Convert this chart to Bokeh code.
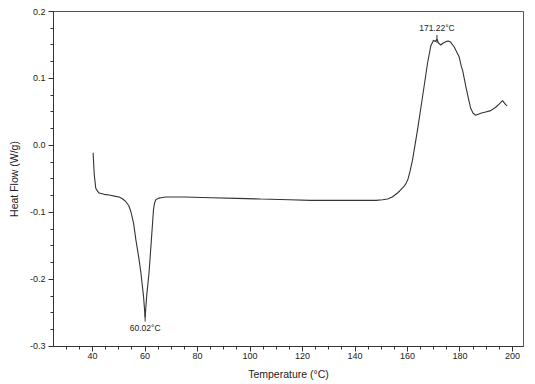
import math
from bokeh.plotting import figure
from bokeh.models import SingleIntervalTicker, PrintfTickFormatter, Range1d
from bokeh.core.properties import value
from bokeh.embed import file_html
from bokeh.resources import INLINE

# Data
temperature = [40.2, 40.6, 41.2, 42.0, 42.5, 44.4, 46.3, 48.8, 50.1, 51.5, 52.7, 53.8, 54.6,
               55.6, 56.5, 57.7, 58.4, 59.4, 60.02, 60.6, 61.5, 62.4, 63.2, 63.6, 64.1, 65.0,
               66.0, 67.9, 75.0, 85.1, 95.0, 104.1, 115.0, 123.2, 133.0, 142.2, 148.0, 150.5,
               152.4, 154.2, 156.2, 157.0, 158.5, 159.4, 160.2, 161.0, 161.9, 163.8, 165.7,
               167.6, 168.9, 169.9, 170.6, 171.22, 171.8, 172.7, 173.6, 174.6, 175.6, 176.5,
               177.8, 179.7, 180.5, 181.0, 182.4, 183.1, 184.1, 185.0, 186.0, 187.9, 189.8,
               191.7, 193.6, 195.0, 196.2, 197.4, 198.0]
heat_flow = [-0.011, -0.042, -0.064, -0.069, -0.071, -0.073, -0.074, -0.076, -0.077, -0.080,
             -0.084, -0.090, -0.099, -0.116, -0.141, -0.170, -0.190, -0.225, -0.257, -0.225,
             -0.190, -0.141, -0.096, -0.086, -0.081, -0.079, -0.078, -0.077, -0.077, -0.078,
             -0.079, -0.080, -0.081, -0.082, -0.082, -0.082, -0.082, -0.081, -0.080, -0.077,
             -0.071, -0.068, -0.062, -0.057, -0.050, -0.038, -0.022, 0.023, 0.072, 0.122,
             0.149, 0.157, 0.155, 0.159, 0.153, 0.150, 0.153, 0.155, 0.156, 0.154, 0.147,
             0.132, 0.118, 0.112, 0.085, 0.072, 0.055, 0.048, 0.045, 0.048, 0.050, 0.052,
             0.057, 0.062, 0.067, 0.061, 0.059]

peak_temps = [60.02, 171.22]
peak_values = [-0.257, 0.159]
peak_labels = ["60.02\u00b0C", "171.22\u00b0C"]

FONT = "Liberation Sans"
TXT = "#222222"

p = figure(width=530, height=382, output_backend="svg", toolbar_location=None,
           x_range=Range1d(25.1, 204.2), y_range=Range1d(-0.3002, 0.2),
           min_border_left=53, min_border_right=7, min_border_top=11, min_border_bottom=35)

p.background_fill_color = "white"
p.border_fill_color = "white"
p.outline_line_color = "#555555"
p.outline_line_width = 1
p.grid.visible = False

p.line(temperature, heat_flow, line_color="#333333", line_width=1.1)

# peak markers and labels
p.scatter([peak_temps[0]], [peak_values[0]], marker="dash", angle=math.pi / 2, size=8,
          line_color="#333333", line_width=1)
p.scatter([peak_temps[1]], [peak_values[1]], marker="dash", angle=math.pi / 2, size=8,
          line_color="#333333", line_width=1)
p.text(x=[peak_temps[0]], y=[peak_values[0]], text=[peak_labels[0]],
       text_font=value(FONT), text_font_size="8.5px", text_color=TXT,
       text_align="center", text_baseline="top", y_offset=5)
p.text(x=[peak_temps[1]], y=[peak_values[1]], text=[peak_labels[1]],
       text_font=value(FONT), text_font_size="8.5px", text_color=TXT,
       text_align="center", text_baseline="bottom", y_offset=-6)

p.xaxis.ticker = SingleIntervalTicker(interval=20, num_minor_ticks=4)
p.yaxis.ticker = SingleIntervalTicker(interval=0.1, num_minor_ticks=4)
p.yaxis.formatter = PrintfTickFormatter(format="%.1f")

for ax in (p.xaxis[0], p.yaxis[0]):
    ax.axis_line_color = "#333333"
    ax.major_tick_line_color = "#333333"
    ax.minor_tick_line_color = "#333333"
    ax.major_tick_out = 5
    ax.major_tick_in = 0
    ax.minor_tick_out = 3
    ax.minor_tick_in = 0
    ax.major_label_text_font = FONT
    ax.major_label_text_font_size = "9px"
    ax.major_label_text_color = TXT
    ax.axis_label_text_font = FONT
    ax.axis_label_text_font_size = "10.5px"
    ax.axis_label_text_font_style = "normal"
    ax.axis_label_text_color = TXT

p.xaxis.major_label_standoff = 1
p.yaxis.major_label_standoff = 3
p.xaxis.axis_label = "Temperature (\u00b0C)"
p.yaxis.axis_label = "Heat Flow (W/g)"
p.xaxis.axis_label_standoff = 6
p.yaxis.axis_label_standoff = 7

open("out.html", "w").write(file_html(p, INLINE))
